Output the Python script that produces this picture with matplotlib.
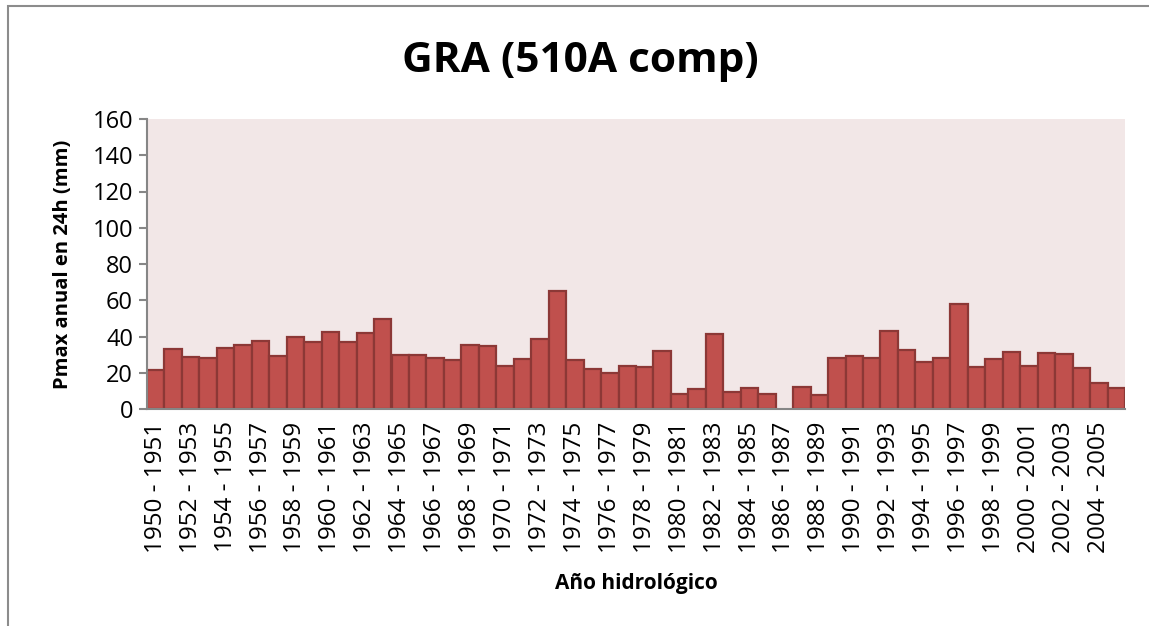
import numpy as np
import matplotlib.pyplot as plt
from matplotlib.patches import Rectangle

# Hydrological years 1950-1951 ... 2005-2006
start_years = list(range(1950, 2006))
labels = [f"{y} - {y + 1}" for y in start_years]

# Annual max 24h precipitation (mm); 1986-1987 missing
pmax = [21.3, 33.3, 28.7, 28.0, 33.7, 35.5, 37.5, 29.4, 39.9, 37.1,
        42.5, 37.1, 41.8, 49.8, 29.6, 29.6, 28.0, 27.2, 35.5, 34.9,
        23.9, 27.8, 38.6, 65.3, 27.0, 22.1, 19.7, 23.9, 23.2, 32.0,
        8.3, 10.9, 41.2, 9.6, 11.4, 8.3, np.nan, 12.1, 7.5, 28.3,
        29.0, 28.3, 43.2, 32.4, 26.1, 28.3, 57.7, 23.2, 27.4, 31.3,
        23.5, 30.9, 30.5, 22.8, 14.2, 11.8]

plt.rcParams['font.family'] = ['Open Sans', 'DejaVu Sans']

fig = plt.figure(figsize=(11.49, 6.26), dpi=100)
ax = fig.add_axes([147 / 1149, 1 - 409 / 626, (1125 - 147) / 1149, (409 - 119) / 626])

# chart-area border (runs off the right and bottom edges)
fig.patches.append(Rectangle((8 / 1149, -0.1), 1.2, (1 - 6 / 626) + 0.1,
                             transform=fig.transFigure, fill=False,
                             edgecolor='#8c8c8c', linewidth=1.5))

x = np.arange(len(pmax))
ax.bar(x, pmax, width=1.0, color='#C0504D', edgecolor='#8C3836', linewidth=1.6)

ax.set_facecolor('#F2E7E7')
ax.set_xlim(-0.5, len(pmax) - 0.5)
ax.set_ylim(0, 160)
ax.set_yticks(range(0, 161, 20))
ax.set_xticks(x[::2])
ax.set_xticklabels(labels[::2], rotation=90, fontsize=17.5)
ax.tick_params(axis='x', length=0, pad=9)
ax.tick_params(axis='y', length=6, width=1.5, color='#868686', labelsize=17, pad=4)

for s in ['top', 'right']:
    ax.spines[s].set_visible(False)
for s in ['left', 'bottom']:
    ax.spines[s].set_color('#868686')
    ax.spines[s].set_linewidth(1.5)

fig.text(580 / 1149, 1 - 62 / 626, 'GRA (510A comp)', ha='center', va='center',
         fontsize=30.5, fontweight='bold')
ax.set_ylabel('Pmax anual en 24h (mm)', fontsize=14.5, fontweight='bold', labelpad=14)
ax.set_xlabel('Año hidrológico', fontsize=15, fontweight='bold', labelpad=14)

fig.savefig('out.png', dpi=100)
